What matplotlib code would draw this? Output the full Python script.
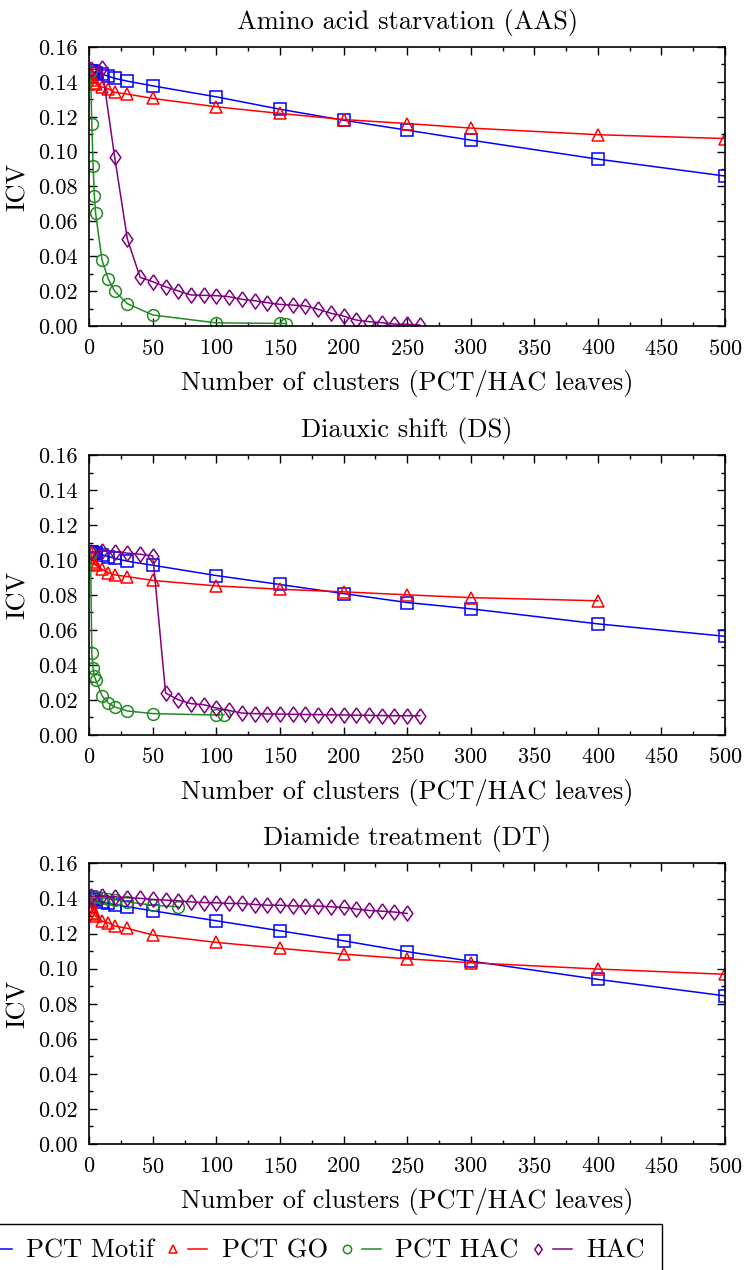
import numpy as np
import matplotlib
matplotlib.use("Agg")
import matplotlib.pyplot as plt
from matplotlib.lines import Line2D
from matplotlib.patches import Rectangle
from matplotlib.legend_handler import HandlerTuple
from matplotlib.ticker import MultipleLocator


plt.rcParams["font.family"] = ["cmr10", "DejaVu Serif"]
plt.rcParams["mathtext.fontset"] = "cm"
plt.rcParams["axes.formatter.use_mathtext"] = True

W, H = 744, 1270

TITLES = ["Amino acid starvation (AAS)", "Diauxic shift (DS)", "Diamide treatment (DT)"]

# number of clusters used for the PCT runs
X_PCT = [1, 2, 3, 4, 5, 10, 15, 20, 30, 50, 100, 150, 200, 250, 300, 400, 500]

# PCT Motif
motif_aas = [0.1463, 0.1460, 0.1457, 0.1455, 0.1452, 0.1445, 0.1432, 0.1420, 0.1404,
             0.1377, 0.1314, 0.1243, 0.1180, 0.1123, 0.1066, 0.0957, 0.0860]
motif_ds = [0.1046, 0.1044, 0.1042, 0.1040, 0.1038, 0.1029, 0.1020, 0.1010, 0.0993,
            0.0970, 0.0911, 0.0860, 0.0808, 0.0757, 0.0721, 0.0635, 0.0564]
motif_dt = [0.1410, 0.1405, 0.1400, 0.1395, 0.1390, 0.1381, 0.1372, 0.1366, 0.1353,
            0.1330, 0.1273, 0.1216, 0.1159, 0.1097, 0.1043, 0.0939, 0.0845]

# PCT GO (DS run stops at 400)
go_aas = [0.1450, 0.1430, 0.1410, 0.1395, 0.1390, 0.1370, 0.1360, 0.1340, 0.1330,
          0.1305, 0.1257, 0.1219, 0.1184, 0.1161, 0.1135, 0.1097, 0.1075]
go_ds = [0.1040, 0.1010, 0.0990, 0.0980, 0.0970, 0.0947, 0.0928, 0.0915, 0.0905,
         0.0883, 0.0852, 0.0833, 0.0818, 0.0801, 0.0785, 0.0767]
go_dt = [0.1380, 0.1350, 0.1320, 0.1310, 0.1300, 0.1271, 0.1261, 0.1243, 0.1230,
         0.1192, 0.1150, 0.1116, 0.1083, 0.1056, 0.1034, 0.0998, 0.0968]

# PCT HAC
pcthac_x_aas = [1, 2, 3, 4, 5, 10, 15, 20, 30, 50, 100, 150, 155]
pcthac_aas = [0.1460, 0.1156, 0.0919, 0.0745, 0.0646, 0.0378, 0.0268, 0.0199, 0.0128,
              0.0063, 0.0018, 0.0015, 0.0014]
pcthac_x_ds = [1, 2, 3, 4, 5, 10, 15, 20, 30, 50, 100, 106]
pcthac_ds = [0.1040, 0.0468, 0.0380, 0.0335, 0.0316, 0.0224, 0.0183, 0.0160, 0.0137,
             0.0122, 0.0114, 0.0116]
pcthac_x_dt = [1, 5, 10, 15, 20, 30, 50, 70]
pcthac_dt = [0.1410, 0.1410, 0.1405, 0.1400, 0.1394, 0.1381, 0.1362, 0.1353]

# plain HAC, cut every 10 leaves
hac_x_aas = [1] + list(range(10, 261, 10))
hac_aas = [0.1471, 0.1477, 0.0967, 0.0497, 0.0279, 0.0254, 0.0225, 0.0201, 0.0178,
           0.0176, 0.0174, 0.0168, 0.0153, 0.0145, 0.0134, 0.0124, 0.0120, 0.0115,
           0.0096, 0.0073, 0.0057, 0.0034, 0.0025, 0.0019, 0.0011, 0.0010, 0.0006]
hac_x_ds = [1] + list(range(10, 261, 10))
hac_ds = [0.1045, 0.1052, 0.1048, 0.1039, 0.1033, 0.1023, 0.0240, 0.0201, 0.0179,
          0.0173, 0.0154, 0.0140, 0.0125, 0.0122, 0.0120, 0.0119, 0.0118, 0.0117,
          0.0116, 0.0115, 0.0114, 0.0113, 0.0112, 0.0111, 0.0110, 0.0110, 0.0110]
hac_x_dt = [1] + list(range(10, 251, 10))
hac_dt = [0.1414, 0.1414, 0.1410, 0.1405, 0.1401, 0.1395, 0.1391, 0.1387, 0.1381,
          0.1377, 0.1376, 0.1372, 0.1372, 0.1366, 0.1362, 0.1362, 0.1358, 0.1357,
          0.1357, 0.1353, 0.1349, 0.1340, 0.1332, 0.1328, 0.1323, 0.1315]

# a diamond a bit wider than matplotlib's "d"
DIAMOND = [(0, 1), (0.7, 0), (0, -1), (-0.7, 0), (0, 1)]

STYLES = {
    "PCT Motif": dict(color="#0000ff", marker="s", ms=9),
    "PCT GO": dict(color="#ff0000", marker="^", ms=8.5),
    "PCT HAC": dict(color="#228b22", marker="o", ms=8.5),
    "HAC": dict(color="#800080", marker=DIAMOND, ms=11),
}

PANELS = [
    [(X_PCT, motif_aas), (X_PCT, go_aas), (pcthac_x_aas, pcthac_aas), (hac_x_aas, hac_aas)],
    [(X_PCT, motif_ds), (X_PCT[:len(go_ds)], go_ds), (pcthac_x_ds, pcthac_ds), (hac_x_ds, hac_ds)],
    [(X_PCT, motif_dt), (X_PCT, go_dt), (pcthac_x_dt, pcthac_dt), (hac_x_dt, hac_dt)],
]

# axes boxes as [left, bottom, width, height] in figure fractions
BOXES = [
    [0.1200, 0.7433, 0.8545, 0.2197],
    [0.1200, 0.4213, 0.8545, 0.2204],
    [0.1200, 0.0992, 0.8545, 0.2209],
]


def draw_panel(ax, series, title):
    """one ICV vs. number-of-clusters panel"""
    for name, (x, y) in zip(STYLES, series):
        st = STYLES[name]
        ax.plot(x, y, color=st["color"], lw=1.1, marker=st["marker"], ms=st["ms"],
                mfc="none", mec=st["color"], mew=1.1)
    ax.set_xlim(0, 500)
    ax.set_ylim(0, 0.16)
    ax.xaxis.set_major_locator(MultipleLocator(50))
    ax.xaxis.set_minor_locator(MultipleLocator(25))
    ax.yaxis.set_major_locator(MultipleLocator(0.02))
    ax.yaxis.set_minor_locator(MultipleLocator(0.01))
    ax.yaxis.set_major_formatter(lambda v, p: f"{v:.2f}")
    ax.tick_params(which="both", direction="in", top=True, right=True, labelsize=16)
    ax.tick_params(which="major", length=6, width=1)
    ax.tick_params(which="minor", length=3, width=1)
    ax.tick_params(axis="x", which="major", pad=9)
    ax.tick_params(axis="y", which="major", pad=8)
    for s in ax.spines.values():
        s.set_linewidth(1.2)
    ax.set_title(title, fontsize=19, pad=13)
    ax.set_ylabel("ICV", fontsize=19, labelpad=6)
    ax.set_xlabel("Number of clusters (PCT/HAC leaves)", fontsize=19, labelpad=8)


fig = plt.figure(figsize=(W / 100, H / 100), dpi=100)
for box, series, title in zip(BOXES, PANELS, TITLES):
    ax = fig.add_axes(box)
    draw_panel(ax, series, title)

# legend: marker first, then a short line segment, then the label
handles = []
for name, st in STYLES.items():
    mk = Line2D([], [], ls="none", marker=st["marker"], color=st["color"], mfc="none",
                ms=st["ms"] * 0.7, mew=1.1)
    ln = Line2D([], [], color=st["color"], lw=1.1)
    handles.append((mk, ln))
leg = fig.legend(handles, list(STYLES), handler_map={tuple: HandlerTuple(ndivide=None, pad=0.21)},
                 ncol=4, loc="upper right", bbox_to_anchor=(658 / W, 1 - 1226 / H),
                 fontsize=19, frameon=False, handlelength=1.65, handletextpad=0.55,
                 columnspacing=0.36, borderpad=0.0)

# open-bottomed box around the legend, running off the left and bottom edges
fig.add_artist(Rectangle((-10 / W, -20 / H), 672 / W, (H - 1224 + 20) / H,
                         transform=fig.transFigure, fill=False, ec="black", lw=1.0))

fig.savefig("out.png", dpi=100)
